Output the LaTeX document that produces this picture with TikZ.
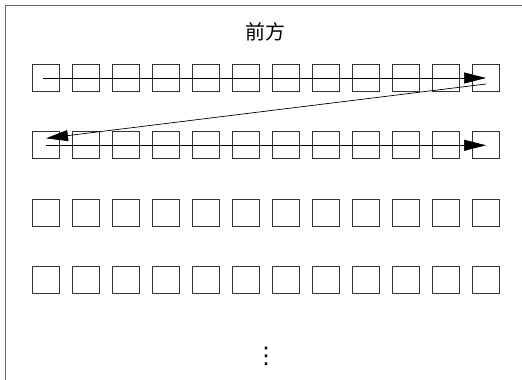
\documentclass[tikz,border=0pt]{standalone}
\usepackage{fontspec}
\newfontfamily\cjkfont{Noto Sans CJK SC}
\newfontfamily\symfont{DejaVu Sans}
\usetikzlibrary{positioning,arrows.meta}
\tikzset{
  seat/.style={draw=black!80, line width=0.8pt, minimum size=27pt, inner sep=0pt},
  flow/.style={-{Triangle[length=22pt,width=11pt]}, line width=0.7pt}
}

\begin{document}
\begin{tikzpicture}[x=1pt,y=-1pt]
    \useasboundingbox (0,0) rectangle (522,380);

    % frame
    \draw[black!60, line width=1.5pt] (5.5,380) -- (5.5,5.5) -- (522,5.5);

    % front
    \node[font=\cjkfont\fontsize{20}{20}\selectfont] (front) at (265.5,31.5) {前方};

    % seats
    \foreach \r in {1,...,4}
        \foreach \c in {1,...,12}
            \node[seat] (s-\r-\c) at ({46+40*(\c-1)}, {78+67.3*(\r-1)}) {};

    % order
    \draw[flow] ([xshift=-3pt]s-1-1.center) -- (s-1-12.center);
    \draw[flow] ([yshift=-6pt]s-1-12.center) -- ([yshift=7pt]s-2-1.center);
    \draw[flow] (s-2-1.center) -- (s-2-12.center);

    % more rows
    \node[font=\symfont\fontsize{23}{23}\selectfont, inner sep=0pt] (more) at (266,356) {⋮};
\end{tikzpicture}
\end{document}
